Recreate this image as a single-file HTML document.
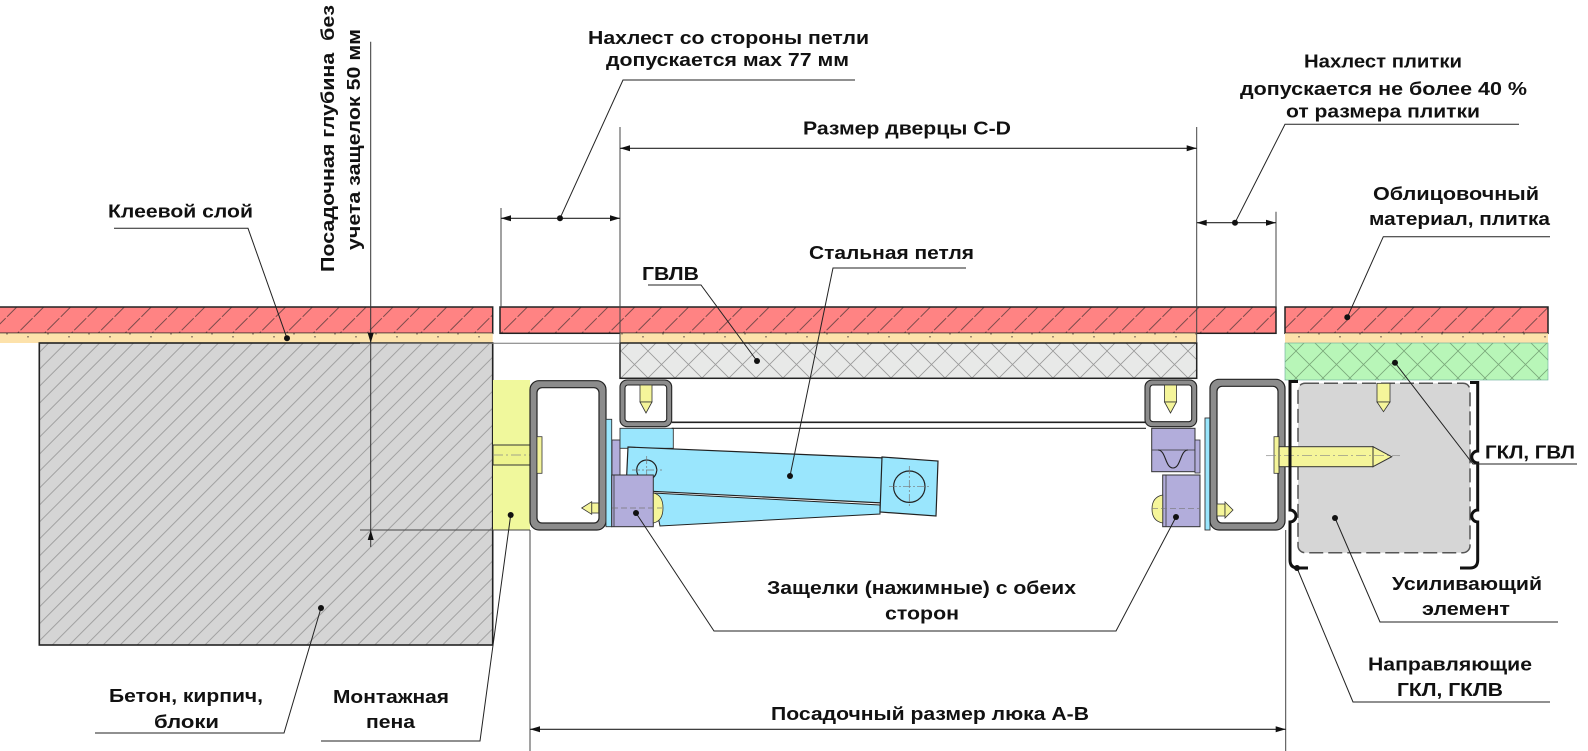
<!DOCTYPE html>
<html><head><meta charset="utf-8">
<style>
html,body{margin:0;padding:0;background:#fff;}
svg{display:block;}
text{font-family:"Liberation Sans",Arial,sans-serif;font-weight:bold;font-size:18px;fill:#111;}
</style></head><body>
<svg width="1588" height="751" viewBox="0 0 1588 751" xmlns="http://www.w3.org/2000/svg">
<defs>
<pattern id="pRed" width="19" height="19" patternUnits="userSpaceOnUse" patternTransform="rotate(45)">
 <rect width="19" height="19" fill="#ff8383"/>
 <line x1="1" y1="0" x2="1" y2="19" stroke="#6d4545" stroke-width="0.9" stroke-dasharray="10,2"/>
</pattern>
<pattern id="pCon" width="12" height="12" patternUnits="userSpaceOnUse" patternTransform="rotate(45)">
 <rect width="12" height="12" fill="#d5d5d5"/>
 <line x1="1" y1="0" x2="1" y2="12" stroke="#9c9c9c" stroke-width="0.9"/>
</pattern>
<pattern id="pX" width="27" height="27" patternUnits="userSpaceOnUse">
 <rect width="27" height="27" fill="#e8e9e8"/>
 <path d="M0,0 L27,27 M27,0 L0,27" stroke="#9a9a9a" stroke-width="0.8"/>
</pattern>
<pattern id="pG" width="27" height="27" patternUnits="userSpaceOnUse">
 <rect width="27" height="27" fill="#b8f6b8"/>
 <path d="M0,0 L27,27 M27,0 L0,27" stroke="#7aa87a" stroke-width="0.8"/>
</pattern>
<pattern id="pAdh" width="41" height="10" patternUnits="userSpaceOnUse">
 <rect width="41" height="10" fill="#fde2ab"/>
 <rect x="6" y="3" width="2" height="1.5" fill="#a08a70"/>
 <rect x="27" y="6" width="2" height="1.5" fill="#a08a70"/>
</pattern>
</defs>

<!-- tiles -->
<rect x="-2" y="307" width="494.7" height="26.3" fill="url(#pRed)" stroke="#222" stroke-width="1.5"/>
<rect x="500" y="307" width="776" height="26.3" fill="url(#pRed)" stroke="#222" stroke-width="1.5"/>
<rect x="1285" y="307" width="263" height="26.3" fill="url(#pRed)" stroke="#222" stroke-width="1.5"/>
<!-- adhesive -->
<rect x="-2" y="333.3" width="494.7" height="9.7" fill="url(#pAdh)"/>
<rect x="620" y="333.3" width="576.7" height="9.7" fill="url(#pAdh)"/>
<rect x="1285" y="333.3" width="263" height="9.7" fill="url(#pAdh)"/>
<!-- concrete -->
<rect x="39.3" y="343" width="453.4" height="302" fill="url(#pCon)" stroke="#222" stroke-width="1.6"/>
<!-- door panel -->
<rect x="620" y="343" width="576.7" height="35.3" fill="url(#pX)" stroke="#222" stroke-width="1.5"/>
<!-- green -->
<rect x="1285" y="343" width="263" height="37" fill="url(#pG)" stroke="#6a9" stroke-width="0.6"/>

<!-- foam -->
<rect x="493" y="380" width="37" height="150" fill="#f0f89c"/>
<rect x="493" y="445" width="37" height="20" fill="#eef48e" stroke="#333" stroke-width="1"/>
<line x1="493" y1="455" x2="550" y2="455" stroke="#888" stroke-width="0.8" stroke-dasharray="10,3,2,3"/>

<!-- left big tube -->
<rect x="530" y="380.7" width="76" height="149.3" rx="9" fill="#8c8c8c" stroke="#222" stroke-width="1.2"/>
<rect x="537" y="387.7" width="62" height="135.3" rx="5" fill="#fff" stroke="#222" stroke-width="1.2"/>
<rect x="537" y="436.7" width="5" height="36.6" fill="#f5f59a" stroke="#333" stroke-width="0.8"/>
<rect x="591.7" y="503" width="7" height="10" fill="#f5f59a" stroke="#333" stroke-width="0.8"/>
<polygon points="581.7,508 591.7,501.7 591.7,514.3" fill="#f5f59a" stroke="#333" stroke-width="0.8"/>

<!-- left hinge / latch -->
<rect x="606" y="419.3" width="5.7" height="107.4" fill="#9ae6fd" stroke="#333" stroke-width="0.9"/>
<rect x="612" y="440" width="8" height="36" fill="#b2addb" stroke="#333" stroke-width="0.9"/>
<rect x="620" y="428.3" width="53.3" height="20" fill="#9ae6fd" stroke="#333" stroke-width="0.9"/>
<polygon points="653,493 880,505 880,514 660,526" fill="#9ae6fd" stroke="#222" stroke-width="1"/>
<polygon points="628,447 885,458 883,503 626,490" fill="#9ae6fd" stroke="#222" stroke-width="1.2"/>
<polygon points="882,457 938,461 936,516 880,512" fill="#9ae6fd" stroke="#222" stroke-width="1.2"/>
<circle cx="646.7" cy="470" r="10" fill="none" stroke="#222" stroke-width="1.2"/>
<circle cx="909.3" cy="486.7" r="15.7" fill="none" stroke="#222" stroke-width="1.2"/>
<path d="M632,470 H662 M646.7,456 V484 M889,486.7 H930 M909.3,466 V507" stroke="#777" stroke-width="0.7" stroke-dasharray="8,2,2,2"/>
<rect x="611.7" y="475" width="41.6" height="51.7" fill="#b2addb" stroke="#333" stroke-width="1"/>
<line x1="614" y1="475" x2="614" y2="526.7" stroke="#333" stroke-width="0.8"/>
<path d="M653.3,493 Q663,495 663,508 Q663,521 653.3,523 Z" fill="#f5f59a" stroke="#333" stroke-width="0.8"/>
<line x1="612" y1="508" x2="662" y2="508" stroke="#777" stroke-width="0.7" stroke-dasharray="6,3"/>

<!-- left small tube -->
<rect x="620" y="380" width="51.7" height="46.7" rx="7" fill="#8c8c8c" stroke="#222" stroke-width="1.1"/>
<rect x="625" y="385" width="41.7" height="36.7" rx="3" fill="#fff" stroke="#222" stroke-width="1.1"/>
<rect x="640" y="385" width="12" height="17" fill="#f5f59a" stroke="#333" stroke-width="0.8"/>
<polygon points="640,402 652,402 646,413" fill="#f5f59a" stroke="#333" stroke-width="0.8"/>

<!-- door plate lines -->
<line x1="671.7" y1="422.3" x2="1146" y2="422.3" stroke="#222" stroke-width="1.6"/>
<line x1="671.7" y1="428.3" x2="1146" y2="428.3" stroke="#222" stroke-width="1.2"/>

<!-- right small tube -->
<rect x="1145" y="380" width="51.7" height="46.7" rx="7" fill="#8c8c8c" stroke="#222" stroke-width="1.1"/>
<rect x="1150" y="385" width="41.7" height="36.7" rx="3" fill="#fff" stroke="#222" stroke-width="1.1"/>
<rect x="1164.5" y="385" width="12" height="17" fill="#f5f59a" stroke="#333" stroke-width="0.8"/>
<polygon points="1164.5,402 1176.5,402 1170.5,413" fill="#f5f59a" stroke="#333" stroke-width="0.8"/>

<!-- right latch -->
<rect x="1151.7" y="428.3" width="43.3" height="43.4" fill="#b2addb" stroke="#333" stroke-width="1"/>
<line x1="1151.7" y1="450" x2="1195" y2="450" stroke="#333" stroke-width="0.8"/>
<path d="M1158,450 C1166,450 1165,468 1173,468 C1181,468 1180,450 1188,450" fill="none" stroke="#222" stroke-width="1.1"/>
<rect x="1195" y="440" width="5" height="33" fill="#b2addb" stroke="#333" stroke-width="0.8"/>
<rect x="1162.7" y="475" width="37.3" height="51.7" fill="#b2addb" stroke="#333" stroke-width="1"/>
<line x1="1166" y1="475" x2="1166" y2="526.7" stroke="#333" stroke-width="0.8"/>
<path d="M1162.7,495 Q1152,497 1152,509 Q1152,521 1162.7,523 Z" fill="#f5f59a" stroke="#333" stroke-width="0.8"/>
<line x1="1152" y1="508.3" x2="1200" y2="508.3" stroke="#777" stroke-width="0.7" stroke-dasharray="6,3"/>
<rect x="1205" y="418" width="5" height="112" fill="#9ae6fd" stroke="#333" stroke-width="0.9"/>

<!-- right big tube -->
<rect x="1210" y="379.3" width="75" height="150.7" rx="9" fill="#8c8c8c" stroke="#222" stroke-width="1.2"/>
<rect x="1217" y="386.3" width="61" height="136.7" rx="5" fill="#fff" stroke="#222" stroke-width="1.2"/>
<rect x="1217" y="504" width="8" height="12" fill="#f5f59a" stroke="#333" stroke-width="0.8"/>
<polygon points="1225,502 1233,510 1225,518" fill="#f5f59a" stroke="#333" stroke-width="0.8"/>

<!-- reinforcing element -->
<rect x="1298" y="383.3" width="172" height="169.4" rx="7" fill="#d6d6d6" stroke="#555" stroke-width="1.5" stroke-dasharray="14,5"/>
<rect x="1377" y="383.3" width="13" height="18.7" fill="#f5f59a" stroke="#333" stroke-width="0.8"/>
<polygon points="1377,402 1390,402 1383.5,411.7" fill="#f5f59a" stroke="#333" stroke-width="0.8"/>
<!-- big screw -->
<rect x="1274" y="436.7" width="5" height="36.6" fill="#f5f59a" stroke="#333" stroke-width="0.8"/>
<rect x="1279" y="446.7" width="94" height="20" fill="#f5f59a" stroke="#333" stroke-width="1"/>
<polygon points="1373,446.7 1391.7,456.7 1373,466.7" fill="#f5f59a" stroke="#333" stroke-width="1"/>
<line x1="1266" y1="455.7" x2="1400" y2="455.7" stroke="#888" stroke-width="0.7" stroke-dasharray="10,3,2,3"/>
<!-- guide profile -->
<path d="M1298,381.5 H1290 V510 A6,6 0 0 1 1290,522 V560 Q1290,568 1298,568 H1308" fill="none" stroke="#111" stroke-width="3"/>
<path d="M1470,382.5 H1477.7 V451 A5,5 0 0 0 1477.7,463 V510 A6,6 0 0 0 1477.7,522 V560 Q1477.7,568 1470,568 H1460" fill="none" stroke="#111" stroke-width="3"/>

<!-- extension / dimension lines -->
<g stroke="#444" stroke-width="1" fill="none">
<line x1="501" y1="208" x2="501" y2="307"/>
<line x1="620" y1="127" x2="620" y2="343"/>
<line x1="1196.7" y1="127" x2="1196.7" y2="343"/>
<line x1="1276" y1="211.7" x2="1276" y2="307"/>
<line x1="530" y1="530" x2="530" y2="751"/>
<line x1="1285.7" y1="530" x2="1285.7" y2="751"/>
<line x1="360" y1="343.3" x2="620" y2="343.3" stroke="#777"/>
<line x1="360" y1="530" x2="530" y2="530"/>
<line x1="370.7" y1="41.7" x2="370.7" y2="547" stroke="#333"/>
</g>
<g stroke="#222" stroke-width="1.1">
<line x1="501" y1="218.3" x2="620" y2="218.3"/>
<line x1="620" y1="148.3" x2="1196.7" y2="148.3"/>
<line x1="1196.7" y1="222.7" x2="1276" y2="222.7"/>
<line x1="530" y1="729.3" x2="1285.7" y2="729.3"/>
</g>
<g fill="#111">
<polygon points="501,218.3 511,215.3 511,221.3"/>
<polygon points="620,218.3 610,215.3 610,221.3"/>
<polygon points="620,148.3 630,145.3 630,151.3"/>
<polygon points="1196.7,148.3 1186.7,145.3 1186.7,151.3"/>
<polygon points="1196.7,222.7 1206.7,219.7 1206.7,225.7"/>
<polygon points="1276,222.7 1266,219.7 1266,225.7"/>
<polygon points="530,729.3 540,726.3 540,732.3"/>
<polygon points="1285.7,729.3 1275.7,726.3 1275.7,732.3"/>
<polygon points="370.7,343 367.7,333 373.7,333"/>
<polygon points="370.7,530 367.7,540 373.7,540"/>
</g>

<!-- leaders -->
<g stroke="#222" stroke-width="1" fill="none">
<polyline points="114,228.3 248,228.3 287,338.3"/>
<polyline points="855,80 623,80 560,218.3"/>
<polyline points="1519,124.3 1285,124.3 1235,222.7"/>
<polyline points="1550,236.7 1383.3,236.7 1347.3,317.3"/>
<polyline points="966,268 833,268 790,476"/>
<polyline points="648,285 701,285 757,361"/>
<polyline points="1577,464 1473,464 1395,362.7"/>
<polyline points="321,608 284,733 95,733"/>
<polyline points="510.7,515 480,741 321,741"/>
<polyline points="636,513 714,631 1116,631 1176,517"/>
<polyline points="1335,518 1380,622 1558,622"/>
<polyline points="1297,568 1353,702 1550,702"/>
</g>
<g fill="#111">
<circle cx="287" cy="338.3" r="3"/>
<circle cx="560" cy="218.3" r="3"/>
<circle cx="1235" cy="222.7" r="3"/>
<circle cx="1347.3" cy="317.3" r="3"/>
<circle cx="790" cy="476" r="3"/>
<circle cx="757" cy="361" r="3"/>
<circle cx="1395" cy="362.7" r="3"/>
<circle cx="321" cy="608" r="3"/>
<circle cx="510.7" cy="515" r="3"/>
<circle cx="636" cy="513" r="3"/>
<circle cx="1176" cy="517" r="3"/>
<circle cx="1335" cy="518" r="3"/>
<circle cx="1297" cy="568" r="3"/>
</g>

<!-- texts -->
<text x="588" y="44" textLength="281" lengthAdjust="spacingAndGlyphs">Нахлест со стороны петли</text>
<text x="606" y="66" textLength="243" lengthAdjust="spacingAndGlyphs">допускается мах 77 мм</text>
<text x="1304" y="67.3" textLength="158" lengthAdjust="spacingAndGlyphs">Нахлест плитки</text>
<text x="1240" y="95" textLength="287" lengthAdjust="spacingAndGlyphs">допускается не более 40 %</text>
<text x="1286" y="117.3" textLength="194" lengthAdjust="spacingAndGlyphs">от размера плитки</text>
<text x="803" y="134.3" textLength="208" lengthAdjust="spacingAndGlyphs">Размер дверцы C-D</text>
<text x="1373" y="200" textLength="166" lengthAdjust="spacingAndGlyphs">Облицовочный</text>
<text x="1369" y="225" textLength="181" lengthAdjust="spacingAndGlyphs">материал, плитка</text>
<text x="108" y="217.7" textLength="145" lengthAdjust="spacingAndGlyphs">Клеевой слой</text>
<text x="809" y="259" textLength="165" lengthAdjust="spacingAndGlyphs">Стальная петля</text>
<text x="642" y="280" textLength="57" lengthAdjust="spacingAndGlyphs">ГВЛВ</text>
<text transform="translate(334,272) rotate(-90)" x="0" y="0" textLength="267" lengthAdjust="spacingAndGlyphs">Посадочная глубина&#160; без</text>
<text transform="translate(360,250) rotate(-90)" x="0" y="0" textLength="221" lengthAdjust="spacingAndGlyphs">учета защелок 50 мм</text>
<text x="1485" y="458.3" textLength="90" lengthAdjust="spacingAndGlyphs">ГКЛ, ГВЛ</text>
<text x="767" y="594" textLength="309" lengthAdjust="spacingAndGlyphs">Защелки (нажимные) с обеих</text>
<text x="885" y="619.3" textLength="74" lengthAdjust="spacingAndGlyphs">сторон</text>
<text x="1392" y="590" textLength="150" lengthAdjust="spacingAndGlyphs">Усиливающий</text>
<text x="1422" y="615" textLength="88" lengthAdjust="spacingAndGlyphs">элемент</text>
<text x="1368" y="670.7" textLength="164" lengthAdjust="spacingAndGlyphs">Направляющие</text>
<text x="1397" y="696" textLength="106" lengthAdjust="spacingAndGlyphs">ГКЛ, ГКЛВ</text>
<text x="109" y="702" textLength="154" lengthAdjust="spacingAndGlyphs">Бетон, кирпич,</text>
<text x="154" y="728" textLength="65" lengthAdjust="spacingAndGlyphs">блоки</text>
<text x="333" y="703" textLength="116" lengthAdjust="spacingAndGlyphs">Монтажная</text>
<text x="366" y="728" textLength="49" lengthAdjust="spacingAndGlyphs">пена</text>
<text x="771" y="720" textLength="318" lengthAdjust="spacingAndGlyphs">Посадочный размер люка А-В</text>
</svg>
</body></html>
